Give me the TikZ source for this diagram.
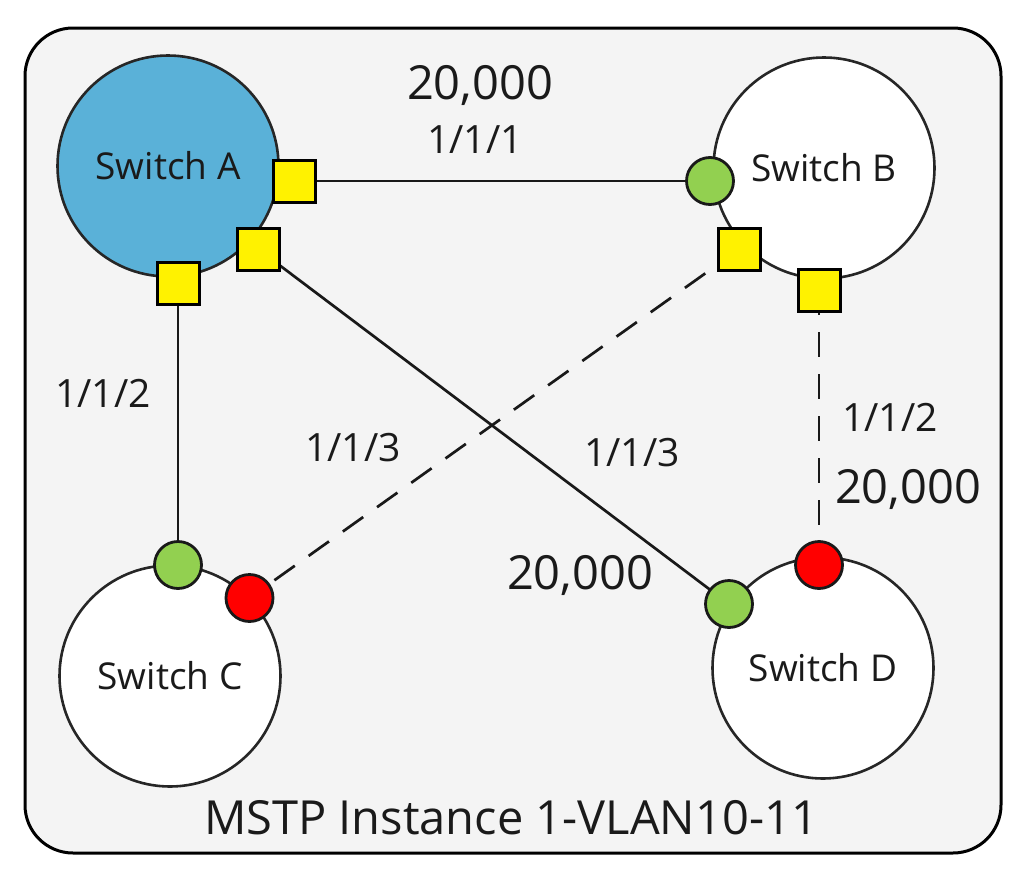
\documentclass[tikz,border=0pt]{standalone}
\usepackage{fontspec}
\setmainfont{Open Sans}
\definecolor{bgc}{HTML}{F4F4F4}
\definecolor{swA}{HTML}{5AB1D8}
\definecolor{pgreen}{HTML}{92D050}
\definecolor{txt}{HTML}{1A1A1A}
\begin{document}
\begin{tikzpicture}[x=1pt,y=-1pt,
  sw/.style={circle,draw=black!85,line width=2.6pt,minimum size=221pt,inner sep=0pt,text=txt,font=\fontsize{37}{40}\selectfont},
  port/.style={draw=black,line width=3pt,minimum size=42pt,inner sep=0pt},
  desg/.style={port,fill=yellow},
  rootp/.style={circle,draw=black!90,line width=2.8pt,minimum size=47pt,inner sep=0pt,fill=pgreen},
  altp/.style={rootp,fill=red},
  link/.style={line width=2.7pt,black!90},
  blk/.style={link,dash pattern=on 25pt off 17pt},
  lbl/.style={text=txt,font=\fontsize{39}{42}\selectfont,inner sep=0pt},
  cost/.style={text=txt,font=\fontsize{47}{50}\selectfont,inner sep=0pt}]
\path[use as bounding box] (0,0) rectangle (1026,881);
\draw[fill=bgc,line width=3pt,rounded corners=48pt] (25,28) rectangle (1001,853);

% switches
\node[sw,fill=swA] (A) at (168,166) {Switch A};
\node[sw,fill=white] (B) at (824,168) {Switch B};
\node[sw,fill=white] (C) at (170,676) {Switch C};
\node[sw,fill=white] (D) at (823,668) {Switch D};

% ports (coordinates)
\coordinate (pa1) at (294.5,181);
\coordinate (pa2) at (258,249);
\coordinate (pa3) at (178,283.5);
\coordinate (pbg) at (710,181);
\coordinate (pb1) at (739.5,249);
\coordinate (pb2) at (819,290);
\coordinate (pcg) at (178,565);
\coordinate (pcr) at (249.5,598);
\coordinate (pdg) at (729,604);
\coordinate (pdr) at (819,565);

% links
\draw[link] (pa1) -- (pbg);
\draw[link] (pa3) -- (pcg);
\draw[link] (pa2) -- (pdg);
\draw[blk] (pb1) -- (pcr);
\draw[blk] (pb2) -- (pdr);

% port markers
\node[desg] (a1) at (pa1) {};
\node[desg] (a2) at (pa2) {};
\node[desg] (a3) at (pa3) {};
\node[rootp] (bg) at (pbg) {};
\node[desg] (b1) at (pb1) {};
\node[desg] (b2) at (pb2) {};
\node[rootp] (cg) at (pcg) {};
\node[altp] (cr) at (pcr) {};
\node[rootp] (dg) at (pdg) {};
\node[altp] (dr) at (pdr) {};

% labels
\node[cost] (c1) at (480,85) {20,000};
\node[lbl] (l1) at (475,140) {1/1/1};
\node[lbl] (l2) at (103,393) {1/1/2};
\node[lbl] (l3) at (353,448) {1/1/3};
\node[lbl] (l4) at (632,453) {1/1/3};
\node[lbl] (l5) at (890,417) {1/1/2};
\node[cost] (c2) at (908,489) {20,000};
\node[cost] (c3) at (580,575) {20,000};
\node[cost] (title) at (511,818) {MSTP Instance 1-VLAN10-11};
\end{tikzpicture}
\end{document}
